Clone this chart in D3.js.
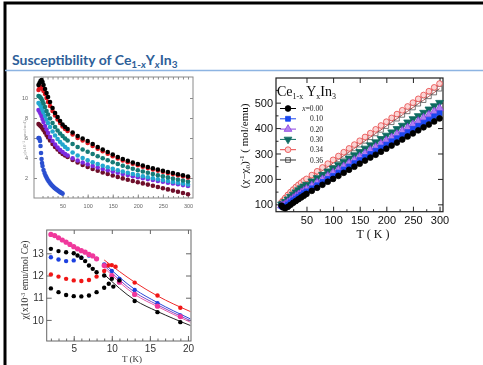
<!DOCTYPE html>
<html>
<head>
<meta charset="utf-8">
<script src="https://cdn.jsdelivr.net/npm/d3@7"></script>
<style>
  html, body { margin: 0; padding: 0; background: #fff; }
  svg { display: block; }
</style>
</head>
<body>
<div id="chart"></div>
<script>
// ---------- data ----------
// top-left panel: chi(T) in 10^-3 emu/mol, 2-300 K
const tA = [2,4,6,8,10,12,15,18,21,25,30,35,40,45,50,55,60,70,80,90,100,110,120,130,140,150,160,170,180,190,200,210,220,230,240,250,260,270,280,290,300];
const chiBlack  = [11.3,11.5,11.7,11.8,11.6,11.3,10.9,10.5,10.1,9.6,9.0,8.5,8.1,7.7,7.35,7.1,6.9,6.55,6.2,5.95,5.7,5.4,5.1,4.85,4.6,4.35,4.1,3.9,3.72,3.55,3.4,3.25,3.1,2.97,2.85,2.73,2.6,2.5,2.38,2.27,2.15];
const chiRed    = [10.8,11.0,11.1,11.1,10.9,10.7,10.4,10.0,9.6,9.2,8.7,8.25,7.85,7.5,7.15,6.9,6.7,6.35,6.0,5.75,5.5,5.2,4.92,4.67,4.42,4.18,3.95,3.75,3.58,3.42,3.27,3.13,2.99,2.86,2.74,2.62,2.5,2.39,2.28,2.17,2.05];
const chiTeal   = [10.2,10.15,10.05,9.9,9.7,9.45,9.1,8.7,8.35,7.95,7.5,7.1,6.75,6.45,6.2,5.95,5.75,5.4,5.1,4.85,4.62,4.4,4.18,3.97,3.77,3.58,3.4,3.23,3.07,2.92,2.78,2.65,2.52,2.4,2.28,2.17,2.06,1.95,1.85,1.75,1.65];
const chiCyan   = [9.5,9.4,9.25,9.05,8.8,8.55,8.2,7.85,7.5,7.1,6.65,6.25,5.9,5.6,5.35,5.1,4.9,4.55,4.25,4.0,3.78,3.58,3.4,3.23,3.07,2.92,2.78,2.65,2.52,2.4,2.29,2.18,2.08,1.98,1.88,1.79,1.7,1.61,1.52,1.44,1.36];
const chiPurple = [8.8,8.65,8.45,8.2,7.9,7.6,7.2,6.85,6.5,6.1,5.7,5.35,5.05,4.8,4.6,4.4,4.25,3.98,3.75,3.55,3.37,3.2,3.05,2.9,2.77,2.64,2.52,2.4,2.29,2.18,2.08,1.98,1.89,1.8,1.71,1.62,1.53,1.45,1.37,1.29,1.21];
const chiMaroon = [7.4,7.3,7.2,7.1,6.95,6.8,6.55,6.3,6.05,5.75,5.4,5.1,4.85,4.6,4.4,4.25,4.1,3.8,3.55,3.3,3.1,2.9,2.72,2.55,2.4,2.25,2.1,1.96,1.83,1.7,1.58,1.46,1.34,1.22,1.1,0.98,0.86,0.74,0.62,0.5,0.38];
const tBlue   = [2,3,4,5,6,7,8,9,10,12,14,16,18,20,22,24,26,28,30,32,34,36,38,40,42,44,46,48,50];
const chiBlue = [6.0,6.0,5.9,5.7,5.2,4.5,3.9,3.5,3.2,2.8,2.5,2.25,2.05,1.85,1.7,1.55,1.42,1.3,1.2,1.1,1.0,0.92,0.85,0.78,0.7,0.63,0.56,0.5,0.44];
const ticksA_x = [50,100,150,200,250,300];
const ticksA_y = [2,4,6,8,10];

// top-right panel: (chi - chi0)^-1 in mol/emu
const tB = [3,6,10,15,20,25,30,35,40,45,50,60,70,80,90,100,110,120,130,140,150,160,170,180,190,200,210,220,230,240,250,260,270,280,290,300];
const inv000 = [95,88,85,90,98,106,113,120,127,134,141,153,165,177,189,200,212,224,236,248,260,272,284,295,307,319,331,343,355,367,379,391,403,414,426,438];
const inv010 = [92,90,93,100,108,116,123,130,137,144,151,163,175,188,200,212,225,237,249,262,274,286,298,311,323,335,348,360,372,384,397,409,421,433,446,458];
const inv020 = [95,95,100,108,116,124,132,139,146,153,160,173,185,198,211,224,236,249,262,274,287,300,313,325,338,351,363,376,389,401,414,427,440,452,465,478];
const inv030 = [100,103,110,120,130,139,148,156,164,171,178,191,204,217,230,242,255,268,281,294,307,320,333,345,358,371,384,397,410,423,436,448,461,474,487,500];
const inv034 = [108,115,125,137,148,158,168,177,185,193,200,215,230,245,260,275,290,305,320,335,350,365,380,395,410,425,440,455,470,485,500,515,530,545,560,575];
const inv036 = [100,108,118,130,140,150,159,167,175,182,189,204,218,233,247,262,277,291,306,320,335,350,364,379,393,408,423,437,452,466,481,496,510,525,540,555];
const legendLabels = ["0.00","0.10","0.20","0.30","0.34","0.36"];
const ticksB_x = [50,100,150,200,250,300];
const ticksB_y = [100,200,300,400,500];

// bottom-left panel: low temperature chi, 10^-3 emu/mol Ce
const tLowBlack  = [2,3,4,5,6,7,8,9,9.6,10.2];
const chiLowBlack = [11.42,11.25,11.12,11.07,11.06,11.1,11.25,11.45,11.63,11.5];
const tUpBlack   = [2,3,4,5,5.5,6,6.5,7,7.5,8,9,10,11,13,16,19];
const chiUpBlack = [13.2,13.1,13.05,13.0,12.9,12.8,12.65,12.45,12.3,12.15,12.0,11.85,11.78,10.85,10.35,9.9];
const tLowRed    = [2,3,4,5,6,7,8,9,9.5,10,10.5,13,16,19];
const chiLowRed  = [12.05,11.95,11.85,11.78,11.75,11.8,11.95,12.2,12.45,12.47,12.4,11.68,11.1,10.55];
const tLowBlue   = [2,3,4,5,6,7,8,9,10,11,13,16,19];
const chiLowBlue = [12.82,12.72,12.65,12.68,12.8,12.9,12.75,12.5,12.2,11.85,11.35,10.75,10.2];
const tPink   = [2,2.5,3,3.5,4,4.5,5,5.5,6,6.5,7,7.5,8,9,10,11,13,16,19];
const chiPink = [13.85,13.8,13.7,13.6,13.5,13.4,13.3,13.2,13.12,13.05,12.95,12.88,12.75,12.45,12.0,11.7,11.15,10.62,10.15];
// fitted curves at high T
const tFit = [9,13,16,20.3];
const fitRed    = [12.7,11.7,11.08,10.38];
const fitBlue   = [12.55,11.38,10.78,10.05];
const fitPurple = [12.45,11.25,10.68,9.97];
const fitPink   = [12.35,11.15,10.6,9.9];
const fitBlack  = [12.05,10.9,10.38,9.75];
const ticksC_x = [5,10,15,20];
const ticksC_y = [10,11,12,13];

// ---------- drawing ----------
const W = 483, H = 365;
const svg = d3.select("#chart").append("svg")
    .attr("width", W)
    .attr("height", H);

svg.append("rect").attr("width", W).attr("height", H).attr("fill", "#fff");

const defs = svg.append("defs");
defs.append("filter").attr("id", "soft").append("feGaussianBlur").attr("stdDeviation", 0.6);
defs.append("filter").attr("id", "soft2").append("feGaussianBlur").attr("stdDeviation", 0.35);

// slide frame
svg.append("rect")
    .attr("x", 5).attr("y", 3)
    .attr("width", 600).attr("height", 500)
    .attr("fill", "none")
    .attr("stroke", "#000")
    .attr("stroke-width", 3);

// slide title
const title = svg.append("text")
    .attr("x", 12).attr("y", 65)
    .attr("font-family", "Lato, 'Open Sans', sans-serif")
    .attr("font-weight", "bold")
    .attr("font-size", 14)
    .attr("fill", "#2e6099");
title.append("tspan").text("Susceptibility of Ce");
title.append("tspan").attr("font-size", 10).attr("dy", 3).text("1-");
title.append("tspan").attr("font-size", 10).attr("font-style", "italic").text("x");
title.append("tspan").attr("dy", -3).text("Y");
title.append("tspan").attr("font-size", 10).attr("font-style", "italic").attr("dy", 3).text("x");
title.append("tspan").attr("dy", -3).text("In");
title.append("tspan").attr("font-size", 10).attr("dy", 3).text("3");

svg.append("line")
    .attr("x1", 5).attr("x2", W)
    .attr("y1", 70.5).attr("y2", 70.5)
    .attr("stroke", "#8db4e2")
    .attr("stroke-width", 1.5);

// helper: draws a tick axis and styles it
function addAxis(g, axis, transform, color, font, size, fill) {
    const a = g.append("g")
        .attr("transform", transform)
        .call(axis);
    a.select(".domain").remove();
    a.selectAll("line").attr("stroke", color);
    a.selectAll("text")
        .attr("font-family", font)
        .attr("font-size", size)
        .attr("fill", fill);
    return a;
}

function addFrame(g, x, y, color, width) {
    const [x0, x1] = x.range();
    const [yb, yt] = y.range();
    g.append("rect")
        .attr("x", x0).attr("y", yt)
        .attr("width", x1 - x0).attr("height", yb - yt)
        .attr("fill", "none")
        .attr("stroke", color)
        .attr("stroke-width", width);
}

// ===== Panel A (top left) =====
const gA = svg.append("g").attr("filter", "url(#soft)");
const xA = d3.scaleLinear().domain([-7, 310]).range([34, 193]);
const yA = d3.scaleLinear().domain([0, 12.1]).range([198, 77]);
const colA = "#8a8a8a";
const minorA = d3.range(10, 301, 10);

addAxis(gA, d3.axisBottom(xA).tickValues(minorA).tickSize(-2).tickFormat(""), `translate(0,${yA.range()[0]})`, colA, "sans-serif", 5, "#777");
addAxis(gA, d3.axisBottom(xA).tickValues(ticksA_x).tickSizeInner(-3.5).tickPadding(6), `translate(0,${yA.range()[0]})`, colA, "Liberation Sans, Arial, sans-serif", 5.5, "#666");
addAxis(gA, d3.axisTop(xA).tickValues(minorA).tickSize(-2.5).tickFormat(""), `translate(0,${yA.range()[1]})`, colA, "sans-serif", 5, "#777");
addAxis(gA, d3.axisLeft(yA).tickValues(ticksA_y).tickSizeInner(-3).tickPadding(6), `translate(${xA.range()[0]},0)`, colA, "Liberation Sans, Arial, sans-serif", 5.5, "#666");
addAxis(gA, d3.axisRight(yA).tickValues(ticksA_y).tickSize(-3).tickFormat(""), `translate(${xA.range()[1]},0)`, colA, "sans-serif", 5, "#777");
addFrame(gA, xA, yA, colA, 1);

gA.append("text")
    .attr("transform", `translate(26,${yA(6)}) rotate(-90)`)
    .attr("text-anchor", "middle")
    .attr("font-family", "Liberation Serif, serif")
    .attr("font-size", 5)
    .attr("fill", "#999")
    .text("χ(x10⁻³ emu/mol)");

const seriesA = [
    {t: tA, v: chiMaroon, color: "#6e0f2a"},
    {t: tA, v: chiPurple, color: "#7b2be0"},
    {t: tA, v: chiCyan,   color: "#21a7cf"},
    {t: tA, v: chiTeal,   color: "#127a76"},
    {t: tA, v: chiRed,    color: "#e0141c"},
    {t: tA, v: chiBlack,  color: "#000000"},
    {t: tBlue, v: chiBlue, color: "#2a4fd0"}
];
seriesA.forEach(s => {
    gA.append("g").selectAll("circle")
        .data(s.t.map((t, i) => [t, s.v[i]]))
        .enter().append("circle")
        .attr("cx", d => xA(d[0]))
        .attr("cy", d => yA(d[1]))
        .attr("r", 2.3)
        .attr("fill", s.color);
});

// ===== Panel B (top right) =====
const gB = svg.append("g").attr("filter", "url(#soft2)");
const xB = d3.scaleLinear().domain([-7.3, 306.5]).range([276, 443]);
const yB = d3.scaleLinear().domain([71, 597]).range([211.7, 78]);
const colB = "#222";
const fontB = "Liberation Sans, Arial, sans-serif";

addAxis(gB, d3.axisBottom(xB).tickValues(ticksB_x).tickSizeInner(-5).tickPadding(5), `translate(0,${yB.range()[0]})`, colB, fontB, 11, "#111");
addAxis(gB, d3.axisBottom(xB).tickValues(d3.range(25, 301, 50)).tickSize(-2.5).tickFormat(""), `translate(0,${yB.range()[0]})`, colB, fontB, 11, "#111");
addAxis(gB, d3.axisTop(xB).tickValues(ticksB_x).tickSize(-5).tickFormat(""), `translate(0,${yB.range()[1]})`, colB, fontB, 11, "#111");
addAxis(gB, d3.axisLeft(yB).tickValues(ticksB_y).tickSizeInner(-5).tickPadding(3), `translate(${xB.range()[0]},0)`, colB, fontB, 11, "#111");
addAxis(gB, d3.axisLeft(yB).tickValues(d3.range(150, 551, 100)).tickSize(-2.5).tickFormat(""), `translate(${xB.range()[0]},0)`, colB, fontB, 11, "#111");
addAxis(gB, d3.axisRight(yB).tickValues(ticksB_y).tickSize(-5).tickFormat(""), `translate(${xB.range()[1]},0)`, colB, fontB, 11, "#111");
addFrame(gB, xB, yB, colB, 1.2);

const yLabB = gB.append("text")
    .attr("transform", `translate(248,${yB(330)}) rotate(-90)`)
    .attr("text-anchor", "middle")
    .attr("font-family", "Liberation Serif, 'Times New Roman', serif")
    .attr("font-size", 11)
    .attr("fill", "#111");
yLabB.append("tspan").text("(χ−χ");
yLabB.append("tspan").attr("font-size", 7).attr("dy", 2).text("0");
yLabB.append("tspan").attr("dy", -2).text(")");
yLabB.append("tspan").attr("font-size", 7).attr("dy", -4).text("-1");
yLabB.append("tspan").attr("dy", 4).text(" ( mol/emu)");

gB.append("text")
    .attr("x", 373).attr("y", 238)
    .attr("text-anchor", "middle")
    .attr("font-family", "Liberation Serif, 'Times New Roman', serif")
    .attr("font-size", 12)
    .attr("fill", "#111")
    .text("T ( K )");

const line = d3.line();
const seriesB = [
    {v: inv000, color: "#000",    stroke: "#000",    sym: d3.symbolCircle,   size: 26, fill: "#000",    rot: 0},
    {v: inv010, color: "#1a47f0", stroke: "#1a47f0", sym: d3.symbolSquare,   size: 24, fill: "#1a47f0", rot: 0},
    {v: inv020, color: "#8a3ee0", stroke: "#8a3ee0", sym: d3.symbolTriangle, size: 26, fill: "#b080f0", rot: 0},
    {v: inv030, color: "#0d6b62", stroke: "#0d6b62", sym: d3.symbolTriangle, size: 26, fill: "#0d6b62", rot: 180},
    {v: inv034, color: "#e84545", stroke: "#e84545", sym: d3.symbolCircle,   size: 26, fill: "#fbd3d3", rot: 0},
    {v: inv036, color: "#555",    stroke: "#b05050", sym: d3.symbolSquare,   size: 22, fill: "none",    rot: 0}
];
// draw higher x first so the black set lies on top like the reference
seriesB.slice().reverse().forEach(s => {
    const pts = tB.map((t, i) => [xB(t), yB(s.v[i])]);
    gB.append("path")
        .attr("d", line(pts))
        .attr("fill", "none")
        .attr("stroke", s.stroke)
        .attr("stroke-width", 1);
    gB.append("g").selectAll("path")
        .data(pts)
        .enter().append("path")
        .attr("transform", d => `translate(${d[0]},${d[1]}) rotate(${s.rot})`)
        .attr("d", d3.symbol().type(s.sym).size(s.size))
        .attr("fill", s.fill)
        .attr("stroke", s.color)
        .attr("stroke-width", 0.8);
});

// legend
const legTitle = gB.append("text")
    .attr("x", 277).attr("y", 96)
    .attr("font-family", "Liberation Serif, 'Times New Roman', serif")
    .attr("font-size", 14)
    .attr("fill", "#111");
legTitle.append("tspan").text("Ce");
legTitle.append("tspan").attr("font-size", 8).attr("dy", 3).text("1-x");
legTitle.append("tspan").attr("dy", -3).text(" Y");
legTitle.append("tspan").attr("font-size", 8).attr("dy", 3).text("x");
legTitle.append("tspan").attr("dy", -3).text("In");
legTitle.append("tspan").attr("font-size", 8).attr("dy", 3).text("3");

const legRow = d3.scaleLinear().domain([0, 5]).range([108.5, 160]);
legendLabels.forEach((lab, i) => {
    const s = seriesB[i];
    const ly = legRow(i);
    gB.append("line")
        .attr("x1", 280).attr("x2", 296)
        .attr("y1", ly).attr("y2", ly)
        .attr("stroke", s.color === "#555" ? "#333" : s.stroke)
        .attr("stroke-width", 1);
    gB.append("path")
        .attr("transform", `translate(288,${ly}) rotate(${s.rot})`)
        .attr("d", d3.symbol().type(s.sym).size(s.size))
        .attr("fill", s.fill)
        .attr("stroke", s.color === "#555" ? "#333" : s.color)
        .attr("stroke-width", 0.8);
    const tx = gB.append("text")
        .attr("x", 323).attr("y", ly + 2.5)
        .attr("text-anchor", "end")
        .attr("font-family", "Liberation Serif, 'Times New Roman', serif")
        .attr("font-size", 7.5)
        .attr("fill", "#222");
    if (i === 0) {
        tx.append("tspan").attr("font-style", "italic").text("x");
        tx.append("tspan").text("=" + lab);
    } else {
        tx.text(lab);
    }
});

// ===== Panel C (bottom left) =====
const gC = svg.append("g").attr("filter", "url(#soft)");
const xC = d3.scaleLinear().domain([1.45, 20.4]).range([46.7, 191]);
const yC = d3.scaleLinear().domain([9.05, 14.05]).range([341, 230]);
const colC = "#666";
const fontC = "Liberation Sans, Arial, sans-serif";

addAxis(gC, d3.axisBottom(xC).tickValues(d3.range(2, 21, 1)).tickSize(-2.5).tickFormat(""), `translate(0,${yC.range()[0]})`, colC, fontC, 10, "#333");
addAxis(gC, d3.axisBottom(xC).tickValues(ticksC_x).tickFormat(d3.format("d")).tickSizeInner(-5).tickPadding(4), `translate(0,${yC.range()[0]})`, colC, fontC, 10, "#333");
addAxis(gC, d3.axisTop(xC).tickValues(ticksC_x).tickSize(-4).tickFormat(""), `translate(0,${yC.range()[1]})`, colC, fontC, 10, "#333");
addAxis(gC, d3.axisLeft(yC).tickValues(ticksC_y).tickFormat(d3.format("d")).tickSizeInner(-5).tickPadding(3), `translate(${xC.range()[0]},0)`, colC, fontC, 10, "#333");
addAxis(gC, d3.axisRight(yC).tickValues(ticksC_y).tickSize(-5).tickFormat(""), `translate(${xC.range()[1]},0)`, colC, fontC, 10, "#333");
addFrame(gC, xC, yC, colC, 1);

const yLabC = gC.append("text")
    .attr("transform", `translate(28,${yC(11.8)}) rotate(-90)`)
    .attr("text-anchor", "middle")
    .attr("font-family", "Liberation Serif, 'Times New Roman', serif")
    .attr("font-size", 9.5)
    .attr("fill", "#333");
yLabC.append("tspan").text("χ(x10");
yLabC.append("tspan").attr("font-size", 6).attr("dy", -3).text("-3");
yLabC.append("tspan").attr("dy", 3).text(" emu/mol Ce)");

gC.append("text")
    .attr("x", 132).attr("y", 362)
    .attr("text-anchor", "middle")
    .attr("font-family", "Liberation Serif, 'Times New Roman', serif")
    .attr("font-size", 9)
    .attr("fill", "#333")
    .text("T (K)");

const curve = d3.line().curve(d3.curveMonotoneX);
const fitsC = [
    {v: fitBlack,  color: "#222"},
    {v: fitPink,   color: "#e85aa8"},
    {v: fitPurple, color: "#7a48c8"},
    {v: fitBlue,   color: "#2a47d8"},
    {v: fitRed,    color: "#ee2a2a"}
];
fitsC.forEach(f => {
    gC.append("path")
        .attr("d", curve(tFit.map((t, i) => [xC(t), yC(f.v[i])])))
        .attr("fill", "none")
        .attr("stroke", f.color)
        .attr("stroke-width", 1);
});

const seriesC = [
    {t: tLowBlack, v: chiLowBlack, color: "#000",    r: 2.2},
    {t: tLowRed,   v: chiLowRed,   color: "#f01818", r: 2.2},
    {t: tLowBlue,  v: chiLowBlue,  color: "#1c3fe0", r: 2.2},
    {t: tPink,     v: chiPink,     color: "#f0389c", r: 2.6},
    {t: tUpBlack,  v: chiUpBlack,  color: "#000",    r: 2.2}
];
seriesC.forEach(s => {
    gC.append("g").selectAll("circle")
        .data(s.t.map((t, i) => [t, s.v[i]]))
        .enter().append("circle")
        .attr("cx", d => xC(d[0]))
        .attr("cy", d => yC(d[1]))
        .attr("r", s.r)
        .attr("fill", s.color);
});
</script>
</body>
</html>
